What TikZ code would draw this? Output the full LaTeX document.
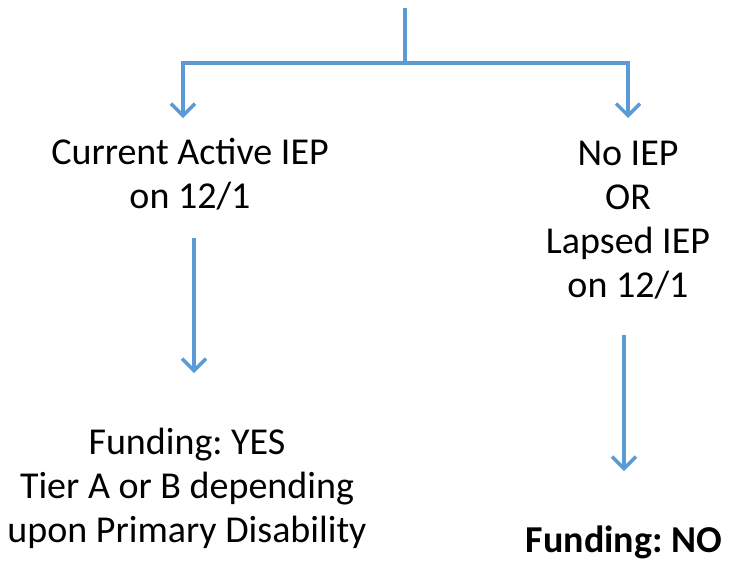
\documentclass[tikz,border=0pt]{standalone}
\usepackage{fontspec}
\setmainfont{Carlito}
\usetikzlibrary{arrows.meta}
\definecolor{arrowblue}{HTML}{5B9BD5}
\begin{document}
\frenchspacing
\begin{tikzpicture}[x=1pt,y=-1pt,
  conn/.style={draw=arrowblue,line width=3.5pt},
  arr/.style={conn,-{Straight Barb[length=12pt,width=24pt,line width=3.5pt]}},
  lbl/.style={align=center,inner sep=0pt,font=\fontsize{38}{44}\selectfont\frenchspacing}]
\useasboundingbox (0,0) rectangle (731,563);
\coordinate (top) at (405,8);
\coordinate (junc) at (405,63);
\coordinate (lt) at (183,118);
\coordinate (rt) at (628,118);
\node[lbl] (cur) at (190,174) {Current Active IEP\\on 12/1};
\node[lbl] (noiep) at (628,220) {No IEP\\OR\\Lapsed IEP\\on 12/1};
\node[lbl] (yes) at (187,488) {Funding: YES\\Tier A or B depending\\upon Primary Disability};
\node[lbl,font=\fontsize{38}{44}\selectfont\bfseries\frenchspacing] (no) at (624,542) {Funding: NO};
\coordinate (a1s) at (194,238);
\coordinate (a1e) at (194,373);
\coordinate (a2s) at (624,335);
\coordinate (a2e) at (624,471);
\draw[conn] (top) -- (junc);
\draw[arr] (junc) -| (lt);
\draw[arr] (junc) -| (rt);
\draw[arr] (a1s) -- (a1e);
\draw[arr] (a2s) -- (a2e);
\end{tikzpicture}
\end{document}
